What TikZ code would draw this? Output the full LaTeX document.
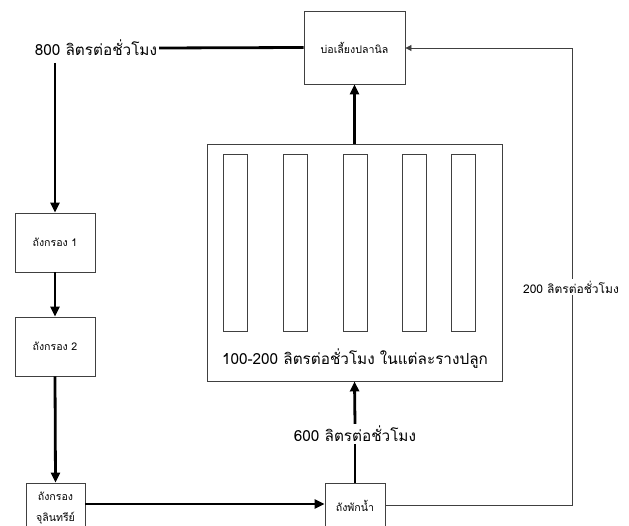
\documentclass[tikz,border=0pt]{standalone}
\usepackage{fontspec}
\newfontfamily\thai[Script=Thai]{Loma}
\usetikzlibrary{arrows.meta,calc}
\definecolor{edge}{HTML}{404040}
\tikzset{
  box/.style={draw=edge,line width=0.9pt,fill=white,inner sep=0pt,align=center,font=\thai\fontsize{10.6}{21}\selectfont},
  slat/.style={draw=edge,line width=0.9pt,inner sep=0pt,minimum width=24pt,minimum height=177pt},
  lbl/.style={inner sep=2pt,font=\thai\fontsize{15.3}{18}\selectfont},
  slbl/.style={inner sep=2pt,font=\thai\fontsize{12}{14}\selectfont},
  flow/.style={line width=2.8pt,-{Triangle[length=10pt,width=9pt]}},
  flowline/.style={line width=2.8pt},
  ret/.style={draw=edge,line width=0.9pt},
  retarrow/.style={draw=edge,line width=0.9pt,-{Triangle[length=6pt,width=6pt]}}
}
\begin{document}
\begin{tikzpicture}[x=1pt,y=-1pt]
\clip (0,0) rectangle (629,526);
\fill[white] (0,0) rectangle (629,526);
% nodes
\node[box,minimum width=101pt,minimum height=73pt] (pond) at (354.5,47.5) {บ่อเลี้ยงปลานิล};
\node[box,minimum width=80pt,minimum height=59pt] (f1) at (55,242.5) {ถังกรอง 1};
\node[box,minimum width=80pt,minimum height=59pt] (f2) at (55,346.5) {ถังกรอง 2};
\node[box,minimum width=59pt,minimum height=50pt] (bio) at (55.5,508) {ถังกรอง\\จุลินทรีย์};
\node[box,minimum width=60pt,minimum height=46pt] (sump) at (355,506) {ถังพักน้ำ};
\node[box,minimum width=295pt,minimum height=237pt] (grow) at (354.5,262.5) {};
\foreach \i/\x in {1/235,2/295,3/355,4/414.5,5/463}
  \node[slat] (s\i) at (\x,242.5) {};
\node[lbl] (growlbl) at (355,359) {100-200 ลิตรต่อชั่วโมง ในแต่ละรางปลูก};
\node[lbl] (l800) at (96,48) {800 ลิตรต่อชั่วโมง};
\node[lbl] (l600) at (355,434) {600 ลิตรต่อชั่วโมง};
\node[slbl] (l200) at (571,287) {200 ลิตรต่อชั่วโมง};
\coordinate (c800) at (55,63);
\coordinate (cr1) at (572,505);
\coordinate (cr2) at (572,48);
% connectors
\draw[flowline] (pond.west) -- (l800.east);
\draw[flow] (c800) -- (f1.north);
\draw[flow] (f1.south) -- (f2.north);
\draw[flow] (f2.south) -- (bio.north);
\draw[flow] (bio.east |- 0,504) -- (sump.west |- 0,504);
\draw[flowline] (sump.north) -- (l600.south);
\draw[flow] (l600.north) -- (grow.south);
\draw[flow] (grow.north) -- (pond.south);
\draw[ret] (sump.east |- cr1) -- (cr1) -- (l200.south -| cr1);
\draw[retarrow] (l200.north -| cr2) -- (cr2) -- (pond.east |- cr2);
\end{tikzpicture}
\end{document}
